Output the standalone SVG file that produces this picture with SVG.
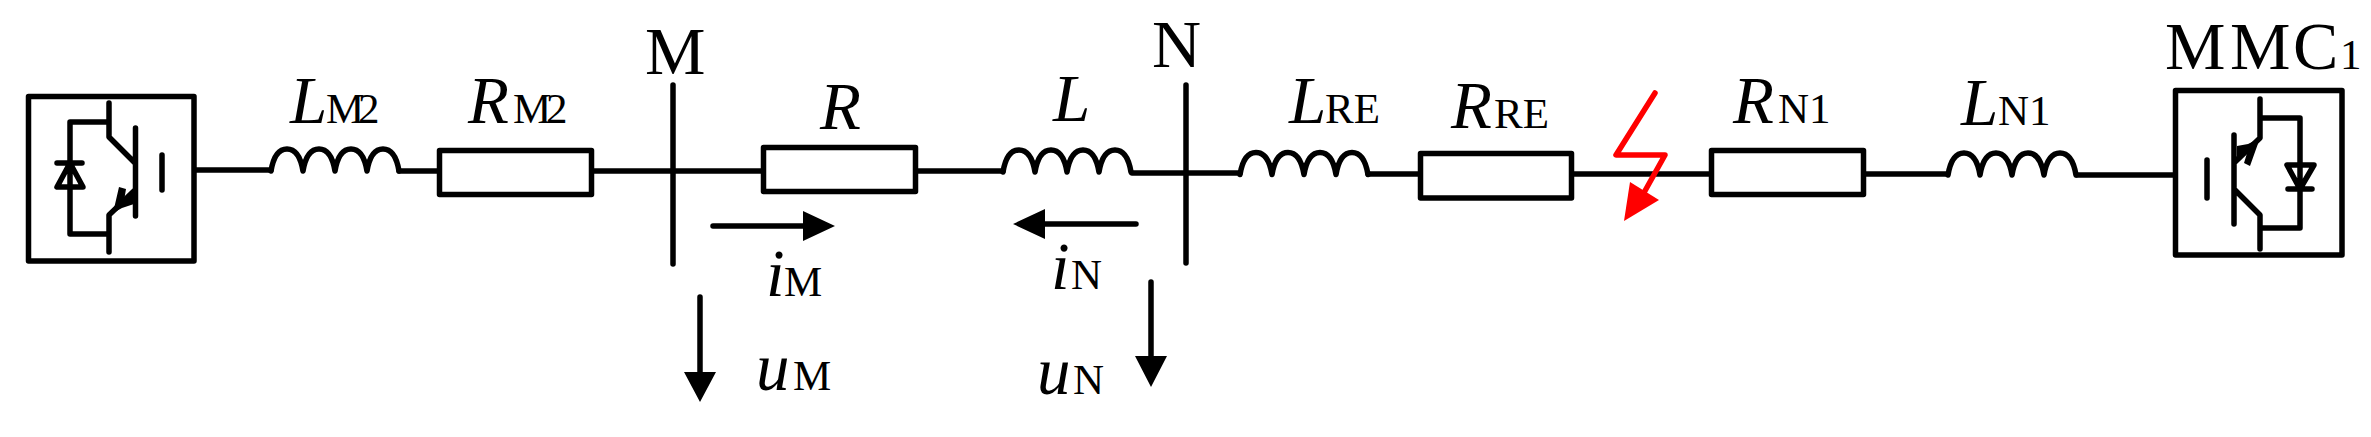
<svg xmlns="http://www.w3.org/2000/svg" width="2371" height="437" viewBox="0 0 2371 437">
<style>
.w{fill:none;stroke:#000;stroke-width:5.500;stroke-linecap:round;stroke-linejoin:round}
.r{fill:#fff;stroke:#000;stroke-width:5.500;stroke-linejoin:round}
.k{fill:#000;stroke:none}
text{font-family:"Liberation Serif","Times New Roman",serif;fill:#000}
.b{font-size:68px}
.i{font-style:italic;font-size:67px}
.s{font-size:43px}
</style>
<defs>
<path id="coil" class="w" d="M0,0c2,-12 7,-22 16,-22c9,0 14,10 16,22c2,-12 7,-22 16,-22c9,0 14,10 16,22c2,-12 7,-22 16,-22c9,0 14,10 16,22c2,-12 7,-22 16,-22c9,0 14,10 16,22"/>
</defs>
<rect width="2371" height="437" fill="#fff"/>
<g id="connectors">
<path class="w" d="M196,170H271M399,171H437M594,171H761M918,171H1003M1132,173H1240M1368,174H1418M1574,174H1709M1866,174H1947M2077,175H2173"/>
<path class="w" d="M713,226H805M1136,224H1043M700,297V375M1151,282V360"/>
<path class="k" d="M835,226L803,211V241ZM1013,224L1045,209V239ZM700,402L684,372H716ZM1151,387L1135,356H1167Z"/>
</g>
<g id="conv-left">
<rect x="28.500" y="96.500" width="165.500" height="164.500" fill="none" stroke="#000" stroke-width="5.500" stroke-linejoin="round"/>
<path class="w" d="M109,103V137L135,163M135.500,128V216M162,155V190M135,190L109,215V252M109,122H70V234H109M57,163H82M70,163L57,187H83Z"/>
<path class="k" d="M113,213L119,187L126,189L124,201L134,194V204L122,208Z"/>
</g>
<g id="L-M2"><use href="#coil" x="271" y="171"/>
<text x="290" y="123"><tspan class="i">L</tspan><tspan class="s" x="326 358">M2</tspan></text></g>
<g id="R-M2"><rect class="r" x="439.500" y="150.500" width="152" height="44"/>
<text x="468" y="123"><tspan class="i">R</tspan><tspan class="s" x="513 546">M2</tspan></text></g>
<g id="bus-M"><path class="w" d="M673,85V264"/><text class="b" x="645" y="74">M</text></g>
<g id="R"><rect class="r" x="763.500" y="147.500" width="152" height="44"/>
<text class="i" x="820" y="129">R</text></g>
<g id="L"><use href="#coil" x="1003" y="172"/><text class="i" x="1053" y="121">L</text></g>
<g id="bus-N"><path class="w" d="M1186,85V263"/><text class="b" x="1152" y="67">N</text></g>
<g id="i-M"><text x="766" y="296"><tspan class="i">i</tspan><tspan class="s" x="784">M</tspan></text></g>
<g id="i-N"><text x="1051" y="289"><tspan class="i">i</tspan><tspan class="s" x="1071">N</tspan></text></g>
<g id="u-M"><text x="756" y="390"><tspan class="i">u</tspan><tspan class="s" x="793">M</tspan></text></g>
<g id="u-N"><text x="1037" y="394"><tspan class="i">u</tspan><tspan class="s" x="1073">N</tspan></text></g>
<g id="L-RE"><use href="#coil" x="1240" y="174.500"/>
<text x="1289" y="123"><tspan class="i">L</tspan><tspan class="s" x="1325">RE</tspan></text></g>
<g id="R-RE"><rect class="r" x="1420.500" y="153.500" width="151" height="44.500"/>
<text x="1451" y="128"><tspan class="i">R</tspan><tspan class="s" x="1494">RE</tspan></text></g>
<g id="fault"><path d="M1655,93L1616,155H1665L1641,198" fill="none" stroke="#f00" stroke-width="5.500" stroke-linecap="round" stroke-linejoin="round"/>
<path d="M1630,182L1659,200L1624,221Z" fill="#f00"/></g>
<g id="R-N1"><rect class="r" x="1711.500" y="150.500" width="152" height="44"/>
<text x="1733" y="123"><tspan class="i">R</tspan><tspan class="s" x="1778">N1</tspan></text></g>
<g id="L-N1"><use href="#coil" x="1948" y="175"/>
<text x="1961" y="125"><tspan class="i">L</tspan><tspan class="s" x="1998">N1</tspan></text></g>
<g id="conv-right">
<rect x="2175.500" y="90.500" width="166.500" height="164.500" fill="none" stroke="#000" stroke-width="5.500" stroke-linejoin="round"/>
<path class="w" d="M2260,99V138L2235,162M2234,135V224M2207,160V198M2235,190L2260,215V249M2260,118H2300V228H2260M2288,189H2312M2287,165H2314L2300,189Z"/>
<path class="k" d="M2260,138L2250,166L2244,163L2248,150L2237,157V146L2248,144Z"/>
<text class="b" x="2165 2230 2293" y="69">MMC</text><text class="s" x="2340" y="69">1</text>
</g>
</svg>
